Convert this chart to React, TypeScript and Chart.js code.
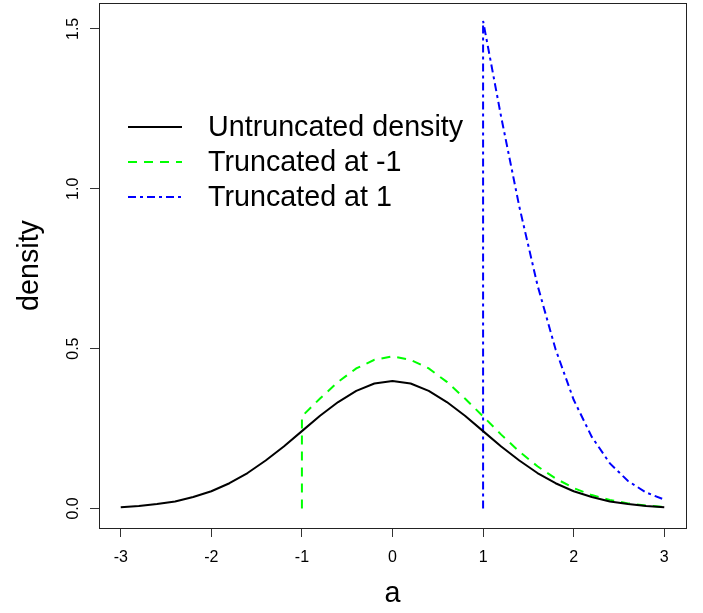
import React, { useEffect, useRef } from "react";
import { Chart, registerables } from "chart.js";

Chart.register(...registerables);

// ---- data ----
const X_UNTRUNC = [
  -3, -2.8, -2.6, -2.4, -2.2, -2, -1.8, -1.6, -1.4, -1.2, -1, -0.8, -0.6, -0.4, -0.2, 0,
  0.2, 0.4, 0.6, 0.8, 1, 1.2, 1.4, 1.6, 1.8, 2, 2.2, 2.4, 2.6, 2.8, 3,
];
const Y_UNTRUNC = [
  0.004, 0.008, 0.014, 0.022, 0.036, 0.054, 0.079, 0.111, 0.15, 0.194, 0.242, 0.29, 0.333, 0.368, 0.391, 0.399,
  0.391, 0.368, 0.333, 0.29, 0.242, 0.194, 0.15, 0.111, 0.079, 0.054, 0.036, 0.022, 0.014, 0.008, 0.004,
];

const X_TRUNC_NEG1 = [
  -1, -1, -0.8, -0.6, -0.4, -0.2, 0, 0.2, 0.4, 0.6, 0.8, 1, 1.2, 1.4, 1.6, 1.8, 2, 2.2, 2.4, 2.6, 2.8, 3,
];
const Y_TRUNC_NEG1 = [
  0, 0.288, 0.344, 0.396, 0.438, 0.465, 0.476, 0.465, 0.438, 0.396, 0.344, 0.288, 0.231, 0.178, 0.132, 0.094,
  0.064, 0.042, 0.027, 0.016, 0.009, 0.005,
];

const X_TRUNC_1 = [1, 1, 1.2, 1.4, 1.6, 1.8, 2, 2.2, 2.4, 2.6, 2.8, 3];
const Y_TRUNC_1 = [0, 1.525, 1.224, 0.944, 0.699, 0.498, 0.34, 0.224, 0.141, 0.086, 0.05, 0.028];

const SERIES_LABELS = ["Untruncated density", "Truncated at -1", "Truncated at 1"];

const X_TICKS = [-3, -2, -1, 0, 1, 2, 3];
const X_TICK_LABELS = ["-3", "-2", "-1", "0", "1", "2", "3"];
const Y_TICKS = [0, 0.5, 1, 1.5];
const Y_TICK_LABELS = ["0.0", "0.5", "1.0", "1.5"];
const X_TITLE = "a";
const Y_TITLE = "density";
const X_LIMITS = [-3.24, 3.24];
const Y_LIMITS = [-0.061, 1.581];

const FONT = '"Liberation Sans", Arial, sans-serif';

const toPoints = (xs: number[], ys: number[]) => xs.map((x, i) => ({ x, y: ys[i] }));

const boxPlugin = {
  id: "rbox",
  afterDraw(chart: any) {
    const { ctx, chartArea } = chart;
    ctx.save();
    ctx.strokeStyle = "#222";
    ctx.lineWidth = 1;
    ctx.setLineDash([]);
    ctx.strokeRect(
      Math.round(chartArea.left) + 0.5,
      Math.round(chartArea.top) + 0.5,
      Math.round(chartArea.right - chartArea.left),
      Math.round(chartArea.bottom - chartArea.top)
    );
    ctx.restore();
  },
};

const legendPlugin = {
  id: "rlegend",
  afterDraw(chart: any) {
    const { ctx } = chart;
    ctx.save();
    chart.data.datasets.forEach((ds: any, i: number) => {
      const y = 127 + i * 35;
      ctx.strokeStyle = ds.borderColor;
      ctx.lineWidth = ds.borderWidth;
      ctx.lineCap = "butt";
      ctx.setLineDash(ds.borderDash || []);
      ctx.beginPath();
      ctx.moveTo(128, y);
      ctx.lineTo(182, y);
      ctx.stroke();
      ctx.setLineDash([]);
      ctx.fillStyle = "#000";
      ctx.font = `28.7px ${FONT}`;
      ctx.textAlign = "left";
      ctx.textBaseline = "middle";
      ctx.fillText(ds.label, 208, y + 1);
    });
    ctx.restore();
  },
};

export default function App() {
  const ref = useRef<HTMLCanvasElement | null>(null);

  useEffect(() => {
    if (!ref.current) return;
    const chart = new Chart(ref.current, {
      type: "line",
      data: {
        datasets: [
          {
            label: SERIES_LABELS[0],
            data: toPoints(X_UNTRUNC, Y_UNTRUNC),
            borderColor: "#000000",
            backgroundColor: "transparent",
            borderWidth: 2,
            pointRadius: 0,
            tension: 0,
            borderJoinStyle: "round",
          },
          {
            label: SERIES_LABELS[1],
            data: toPoints(X_TRUNC_NEG1, Y_TRUNC_NEG1),
            borderColor: "#00FF00",
            backgroundColor: "transparent",
            borderWidth: 2,
            borderDash: [9, 7],
            pointRadius: 0,
            tension: 0,
          },
          {
            label: SERIES_LABELS[2],
            data: toPoints(X_TRUNC_1, Y_TRUNC_1),
            borderColor: "#0000FF",
            backgroundColor: "transparent",
            borderWidth: 2,
            borderDash: [8, 4, 3, 4],
            pointRadius: 0,
            tension: 0,
          },
        ],
      },
      options: {
        animation: false,
        responsive: false,
        devicePixelRatio: 1,
        layout: { padding: { left: 0, top: 3, right: 17, bottom: 0 } },
        plugins: { legend: { display: false }, tooltip: { enabled: false } },
        scales: {
          x: {
            type: "linear",
            min: X_LIMITS[0],
            max: X_LIMITS[1],
            afterBuildTicks: (s: any) => {
              s.ticks = X_TICKS.map((v) => ({ value: v }));
            },
            afterFit: (s: any) => {
              s.height = 85;
              s.paddingLeft = 0;
              s.paddingRight = 0;
            },
            border: { display: false },
            grid: { drawOnChartArea: false, drawTicks: true, tickLength: 9, color: "#333", lineWidth: 1 },
            ticks: {
              padding: 11,
              color: "#000",
              font: { family: FONT, size: 16 },
              maxRotation: 0,
              autoSkip: false,
              callback: (v: any) => {
                const i = X_TICKS.indexOf(Number(v));
                return i >= 0 ? X_TICK_LABELS[i] : "";
              },
            },
            title: {
              display: true,
              text: X_TITLE,
              color: "#000",
              font: { family: FONT, size: 28.7, lineHeight: 1 },
              padding: { top: 0, bottom: 5 },
            },
          },
          y: {
            type: "linear",
            min: Y_LIMITS[0],
            max: Y_LIMITS[1],
            afterBuildTicks: (s: any) => {
              s.ticks = Y_TICKS.map((v) => ({ value: v }));
            },
            afterFit: (s: any) => {
              s.width = 99;
              s.paddingTop = 0;
              s.paddingBottom = 0;
            },
            border: { display: false },
            grid: { drawOnChartArea: false, drawTicks: true, tickLength: 9, color: "#333", lineWidth: 1 },
            ticks: {
              padding: 5,
              color: "#000",
              font: { family: FONT, size: 16 },
              minRotation: 90,
              maxRotation: 90,
              crossAlign: "center",
              autoSkip: false,
              callback: (v: any) => {
                const i = Y_TICKS.indexOf(Number(v));
                return i >= 0 ? Y_TICK_LABELS[i] : "";
              },
            },
            title: {
              display: true,
              text: Y_TITLE,
              color: "#000",
              font: { family: FONT, size: 28.7, lineHeight: 1 },
              padding: { top: 16, bottom: 0 },
            },
          },
        },
      },
      plugins: [boxPlugin, legendPlugin],
    } as any);
    return () => chart.destroy();
  }, []);

  return (
    <div style={{ position: "absolute", left: 0, top: 0, width: 703, height: 613, background: "#fff" }}>
      <canvas ref={ref} width={703} height={613} style={{ width: 703, height: 613, display: "block" }} />
    </div>
  );
}
